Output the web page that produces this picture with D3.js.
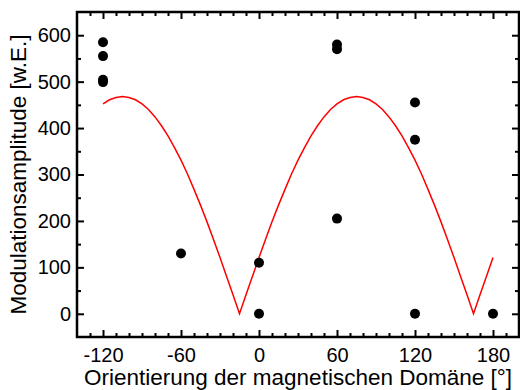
<!DOCTYPE html>
<html>
<head>
<meta charset="utf-8">
<script src="https://cdn.jsdelivr.net/npm/d3@7"></script>
<style>
  body { margin: 0; background: #fff; }
  svg { display: block; font-family: "Liberation Sans", Arial, sans-serif; }
</style>
</head>
<body>
<div id="chart"></div>
<script>
// measured points
const pointX = [-120, -120, -120, -120, -60, 0, 0, 60, 60, 60, 120, 120, 120, 180]
const pointY = [585, 555, 504, 499, 130, 110, 0, 580, 570, 205, 455, 375, 0, 0]

// red fit curve, read every 5 degrees from -120 to 180
const curveX = d3.range(-120, 181, 5)
const curveY = [452, 461, 466, 468, 466, 461, 452, 440, 424, 405, 383, 358, 331, 301, 268, 234, 198, 160, 121, 81, 41, 0,
  41, 81, 121, 160, 198, 234, 268, 301, 331, 358, 383, 405, 424, 440, 452, 461, 466, 468,
  466, 461, 452, 440, 424, 405, 383, 358, 331, 301, 268, 234, 198, 160, 121, 81, 41, 0,
  41, 81, 121]

const xMajor = [-120, -60, 0, 60, 120, 180]
const xMinor = d3.range(-130, 200, 10).filter(v => v % 60 !== 0)
const yMajor = [0, 100, 200, 300, 400, 500, 600]
const yMinor = [50, 150, 250, 350, 450, 550]

const xTitle = "Orientierung der magnetischen Domäne [°]"
const yTitle = "Modulationsamplitude [w.E.]"

const W = 520, H = 390
const m = { left: 77, right: 1, top: 12, bottom: 53 }

const svg = d3.select("#chart").append("svg").attr("width", W).attr("height", H)

const x = d3.scaleLinear().domain([-140, 200]).range([m.left, W - m.right])
const y = d3.scaleLinear().domain([-50, 650]).range([H - m.bottom, m.top])

const fs = 20

function ticks(axisFn, pos, scale, major, minor, labels) {
  const gMin = svg.append("g").attr("transform", pos)
    .call(axisFn(scale).tickValues(minor).tickSize(-4).tickFormat(""))
  const gMaj = svg.append("g").attr("transform", pos)
    .call(axisFn(scale).tickValues(major).tickSize(-7)
      .tickPadding(axisFn === d3.axisLeft ? 6 : 11)
      .tickFormat(labels ? d => String(d) : ""))
  for (const g of [gMin, gMaj]) {
    g.select(".domain").remove()
    g.selectAll("line").attr("stroke", "#000").attr("stroke-width", 2)
    g.selectAll("text").attr("font-size", fs).attr("fill", "#000").attr("font-family", "Liberation Sans, Arial, sans-serif")
  }
  return gMaj
}

ticks(d3.axisBottom, `translate(0,${y(-50)})`, x, xMajor, xMinor, true)
ticks(d3.axisTop, `translate(0,${y(650)})`, x, xMajor, xMinor, false)
ticks(d3.axisLeft, `translate(${x(-140)},0)`, y, yMajor, yMinor, true)
ticks(d3.axisRight, `translate(${x(200)},0)`, y, yMajor, yMinor, false)

// frame
svg.append("rect")
  .attr("x", x(-140)).attr("y", y(650))
  .attr("width", x(200) - x(-140)).attr("height", y(-50) - y(650))
  .attr("fill", "none").attr("stroke", "#000").attr("stroke-width", 2.5)

// curve
const line = d3.line().x((d, i) => x(curveX[i])).y(d => y(d))
svg.append("path").datum(curveY)
  .attr("d", line)
  .attr("fill", "none").attr("stroke", "#ff0000").attr("stroke-width", 1.5)

// points
svg.append("g").selectAll("circle").data(pointX).enter().append("circle")
  .attr("cx", d => x(d)).attr("cy", (d, i) => y(pointY[i]))
  .attr("r", 5).attr("fill", "#000")

// titles
svg.append("text")
  .attr("x", (x(-140) + x(200)) / 2).attr("y", 385)
  .attr("text-anchor", "middle").attr("font-size", 22.5)
  .text(xTitle)

svg.append("text")
  .attr("transform", `translate(26,${(y(-50) + y(650)) / 2}) rotate(-90)`)
  .attr("text-anchor", "middle").attr("font-size", 22.5)
  .text(yTitle)
</script>
</body>
</html>
